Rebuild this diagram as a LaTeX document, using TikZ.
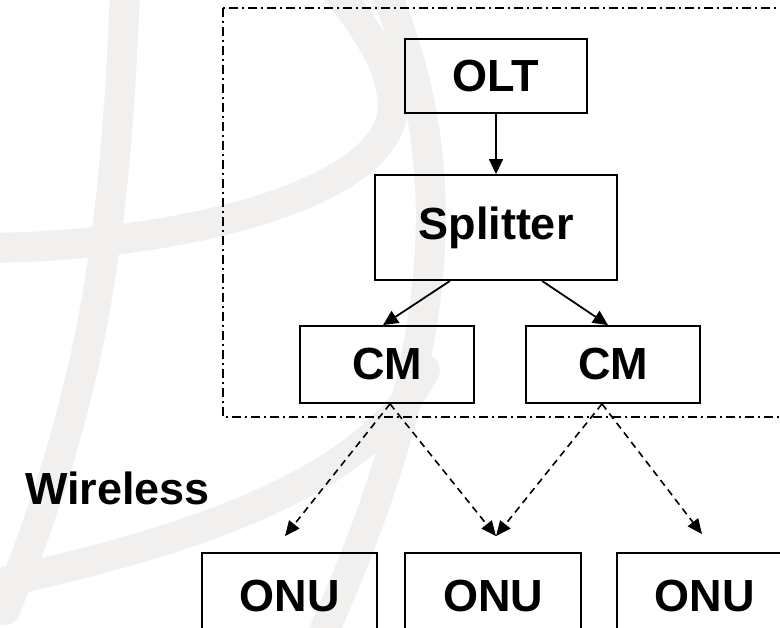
\documentclass[tikz,border=0pt]{standalone}
\usepackage{fontspec}
\setmainfont{Liberation Sans}
\usetikzlibrary{arrows.meta,calc}
\definecolor{wmgrey}{RGB}{241,240,238}
\begin{document}
\begin{tikzpicture}[x=1pt,y=-1pt,
  box/.style={draw=black, line width=1.8pt, inner sep=0pt, font=\fontsize{45}{50}\selectfont\bfseries},
  solidarr/.style={line width=1.8pt, -{Triangle[length=15pt,width=14pt]}},
  wless/.style={line width=1.6pt, dash pattern=on 7pt off 5pt, -{Triangle[length=15pt,width=13pt]}},
  grp/.style={line width=1.8pt, dash pattern=on 9pt off 4pt on 2pt off 4pt},
  wm/.style={line width=30pt, draw=wmgrey, line cap=round}]
\useasboundingbox (0,0) rectangle (780,628);
\clip (0,0) rectangle (780,628);
% faint watermark arcs
\draw[wm] (125,-10) .. controls (115,250) and (90,400) .. (5,610);
\draw[wm] (-10,248) .. controls (200,245) and (380,190) .. (392,115) .. controls (398,70) and (360,20) .. (335,-10);
\draw[wm] (385,-10) .. controls (450,150) and (460,330) .. (320,640);
\draw[wm] (-10,585) .. controls (200,540) and (370,480) .. (425,370);
% group box
\draw[grp] (223,8) rectangle (800,417);
% nodes
\node[box, minimum width=182pt, minimum height=74pt] (olt) at (496,76) {OLT};
\node[box, minimum width=242pt, minimum height=105pt] (spl) at (496,227.5) {Splitter};
\node[box, minimum width=174pt, minimum height=77pt] (cm1) at (387,364.5) {CM\hspace{16pt}};
\node[box, minimum width=174pt, minimum height=77pt] (cm2) at (613,364.5) {CM\hspace{16pt}};
\node[box, minimum width=175pt, minimum height=86pt] (onu1) at (289.5,596) {ONU};
\node[box, minimum width=176pt, minimum height=86pt] (onu2) at (493,596) {ONU};
\node[box, minimum width=175pt, minimum height=86pt] (onu3) at (704.5,596) {ONU};
\node[anchor=base east, inner sep=0pt, font=\fontsize{45}{50}\selectfont\bfseries] (wl) at (210,504) {Wireless};
% solid connectors
\draw[solidarr] (olt.south) -- (spl.north);
\draw[solidarr] ($(spl.south)+(-46,0)$) -- ($(cm1.north)+(-4,0)$);
\draw[solidarr] ($(spl.south)+(46,0)$) -- ($(cm2.north)+(-5,0)$);
% wireless connectors
\coordinate (a1) at ($(cm1.south)+(3,0)$);
\coordinate (a2) at ($(cm2.south)+(-11,0)$);
\coordinate (t1) at ($(onu1.north)+(-4.5,-16)$);
\coordinate (t2) at ($(onu2.north)+(3,-16)$);
\coordinate (t4) at ($(onu3.north)+(-2.5,-18)$);
\draw[wless] (a1) -- (t1);
\draw[wless] (a1) -- (t2);
\draw[wless] (a2) -- (t2);
\draw[wless] (a2) -- (t4);
\end{tikzpicture}
\end{document}
